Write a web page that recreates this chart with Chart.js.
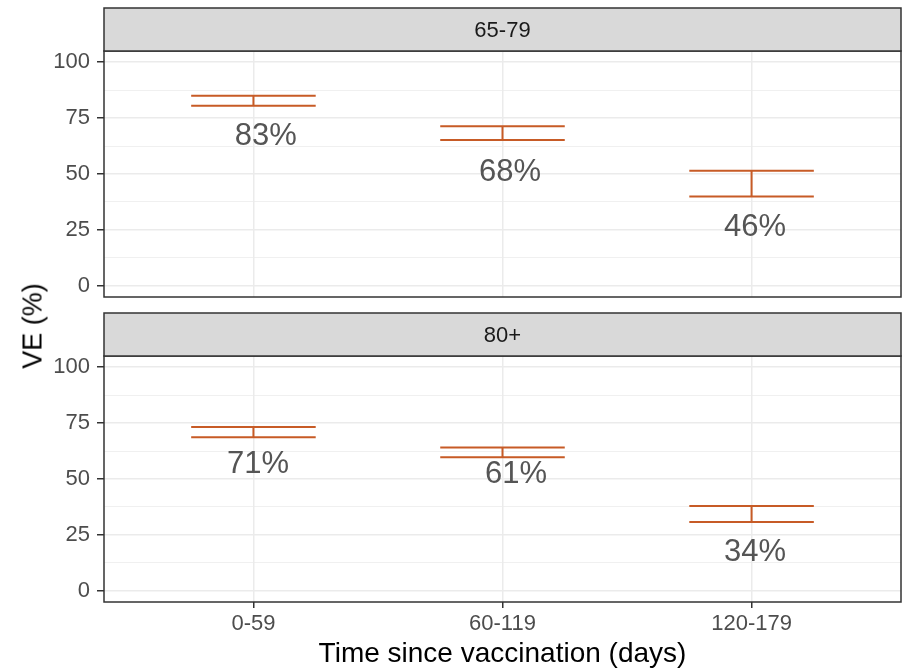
<!DOCTYPE html>
<html>
<head>
<meta charset="utf-8">
<script src="https://cdn.jsdelivr.net/npm/chart.js@4"></script>
<style>
body { margin: 0; background: #fff; }
#wrap { position: relative; width: 905px; height: 671px; background: #fff; }
#wrap canvas { position: absolute; left: 0; }
#ylab {
    position: absolute; left: 33px; top: 326px;
    transform: translate(-50%, -50%) rotate(-90deg);
    font: 27px 'Liberation Sans', Arial, sans-serif; color: #000; white-space: nowrap;
}
</style>
</head>
<body>
<div id="wrap">
    <canvas id="c0" width="905" height="305" style="top: 0"></canvas>
    <canvas id="c1" width="905" height="366" style="top: 305px"></canvas>
    <div id="ylab">VE (%)</div>
</div>
<script>
const categories = ['0-59', '60-119', '120-179']
const panels = ['65-79', '80+']
const estimate = [[83, 68, 46], [71, 61, 34]]
const lower = [[80.5, 65.2, 39.9], [68.7, 59.7, 30.8]]
const upper = [[85.0, 71.4, 51.5], [73.2, 64.1, 37.9]]
// where the % labels sit (data units), and their small sideways nudge (category units)
const labelY = [[67.0, 50.9, 26.3], [56.3, 52.2, 17.0]]
const labelNudge = [[0.05, 0.03, 0.014], [0.018, 0.054, 0.014]]
const yTicks = [0, 12.5, 25, 37.5, 50, 62.5, 75, 87.5, 100]

const orange = '#c75b26'
const font = "'Liberation Sans', Arial, sans-serif"
Chart.defaults.font.family = font

function errorBarPoints(p) {
    const pts = []
    categories.forEach((c, i) => {
        const x = i + 1
        pts.push({x: x - 0.25, y: upper[p][i]}, {x: x + 0.25, y: upper[p][i]}, {x: x, y: null})
        pts.push({x: x - 0.25, y: lower[p][i]}, {x: x + 0.25, y: lower[p][i]}, {x: x, y: null})
        pts.push({x: x, y: lower[p][i]}, {x: x, y: upper[p][i]}, {x: x, y: null})
    })
    return pts
}

const isMajor = c => c.tick && c.tick.value % 25 === 0

const panelDecor = {
    id: 'panelDecor',
    afterDatasetsDraw(chart, args, opts) {
        const {ctx, chartArea: a, scales: {x, y}} = chart
        const p = opts.panel
        ctx.save()
        // value labels
        ctx.fillStyle = '#555'
        ctx.font = '31px ' + font
        ctx.textAlign = 'center'
        ctx.textBaseline = 'middle'
        categories.forEach((c, i) => {
            ctx.fillText(estimate[p][i] + '%',
                x.getPixelForValue(i + 1 + labelNudge[p][i]),
                y.getPixelForValue(labelY[p][i]))
        })
        // panel border
        ctx.strokeStyle = '#333'
        ctx.lineWidth = 1.5
        ctx.strokeRect(a.left, a.top, a.right - a.left, a.bottom - a.top)
        // facet strip
        ctx.fillStyle = '#d9d9d9'
        ctx.fillRect(a.left, opts.stripTop, a.right - a.left, a.top - opts.stripTop)
        ctx.strokeRect(a.left, opts.stripTop, a.right - a.left, a.top - opts.stripTop)
        ctx.fillStyle = '#1a1a1a'
        ctx.font = '22px ' + font
        ctx.fillText(panels[p], (a.left + a.right) / 2, (opts.stripTop + a.top) / 2 + 1)
        ctx.restore()
    }
}

function makePanel(id, p, bottom) {
    return new Chart(document.getElementById(id), {
        type: 'line',
        data: {
            datasets: [{
                data: errorBarPoints(p),
                borderColor: orange,
                borderWidth: 2,
                pointRadius: 0,
                spanGaps: false,
                tension: 0
            }]
        },
        plugins: [panelDecor],
        options: {
            responsive: false,
            animation: false,
            devicePixelRatio: 1,
            layout: {padding: {top: 51, right: 4, bottom: bottom ? 0 : 8, left: 0}},
            plugins: {
                legend: {display: false},
                tooltip: {enabled: false},
                panelDecor: {panel: p, stripTop: 8}
            },
            scales: {
                x: {
                    type: 'linear',
                    min: 0.4,
                    max: 3.6,
                    afterBuildTicks: s => { s.ticks = categories.map((c, i) => ({value: i + 1})) },
                    afterFit: s => { s.height = bottom ? 69 : 0; s.paddingLeft = 0; s.paddingRight = 0 },
                    grid: {color: '#ebebeb', lineWidth: 1.5, drawTicks: bottom, tickLength: 6, tickColor: '#333', tickWidth: 1.5},
                    border: {display: false},
                    ticks: {
                        display: bottom, padding: 3, color: '#4d4d4d', font: {size: 22},
                        autoSkip: false, maxRotation: 0,
                        callback: v => categories[v - 1]
                    },
                    title: {
                        display: bottom, text: 'Time since vaccination (days)', color: '#000',
                        font: {size: 28}, padding: {top: 0, bottom: 0}
                    }
                },
                y: {
                    min: -5,
                    max: 105,
                    afterBuildTicks: s => { s.ticks = yTicks.map(v => ({value: v})) },
                    afterFit: s => { s.width = 104; s.paddingTop = 0; s.paddingBottom = 0 },
                    grid: {
                        color: '#ebebeb',
                        lineWidth: c => isMajor(c) ? 1.5 : 0.75,
                        tickLength: 7,
                        tickWidth: 1.5,
                        tickColor: c => isMajor(c) ? '#333' : 'rgba(0,0,0,0)'
                    },
                    border: {display: false},
                    ticks: {
                        padding: 7, color: '#4d4d4d', font: {size: 22},
                        callback: v => v % 25 === 0 ? v : ''
                    }
                }
            }
        }
    })
}

makePanel('c0', 0, false)
makePanel('c1', 1, true)
</script>
</body>
</html>
